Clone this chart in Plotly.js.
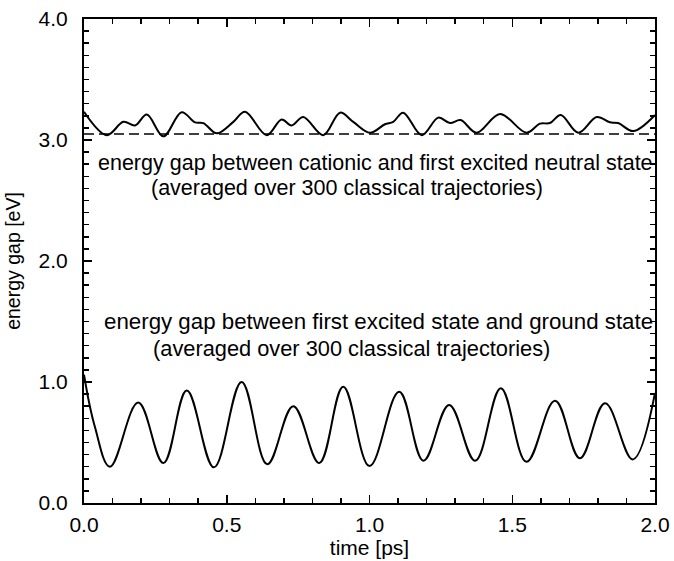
<!DOCTYPE html>
<html><head><meta charset="utf-8">
<script src="https://cdn.plot.ly/plotly-3.0.1.min.js"></script>
<style>html,body{margin:0;padding:0;background:#fff}#chart{width:674px;height:561px}</style>
</head><body><div id="chart"></div>
<script>
// Upper curve: cationic – first excited neutral gap
const tUpper = [0.0,0.08,0.138,0.179,0.22,0.278,0.342,0.389,0.418,0.465,0.523,0.564,0.64,0.692,0.727,0.768,0.838,0.897,0.943,1.002,1.054,1.083,1.118,1.183,1.241,1.282,1.319,1.375,1.457,1.55,1.597,1.632,1.67,1.731,1.796,1.842,1.871,1.924,2.0];
const eUpper = [3.234,3.04,3.15,3.12,3.21,3.03,3.23,3.146,3.14,3.055,3.15,3.234,3.04,3.17,3.12,3.19,3.04,3.226,3.15,3.06,3.13,3.15,3.226,3.04,3.185,3.14,3.165,3.06,3.215,3.06,3.135,3.14,3.207,3.06,3.19,3.146,3.14,3.074,3.207];
// Lower curve: first excited – ground state gap
const tLower = [0.0,0.038,0.091,0.19,0.278,0.36,0.455,0.552,0.642,0.733,0.824,0.908,1.0,1.104,1.189,1.279,1.37,1.46,1.55,1.65,1.737,1.825,1.922,2.0];
const eLower = [1.06,0.63,0.30,0.83,0.33,0.93,0.295,1.0,0.32,0.80,0.33,0.96,0.305,0.92,0.35,0.81,0.35,0.948,0.34,0.846,0.37,0.824,0.36,0.91];
// Reference level (dashed)
const tRef = [0.0,2.0];
const eRef = [3.05,3.05];
const labels = [
  {x:1.021,y:2.81,text:"energy gap between cationic and first excited neutral state",size:21.5},
  {x:0.921,y:2.60,text:"(averaged over 300 classical trajectories)",size:21.5},
  {x:1.031,y:1.496,text:"energy gap between first excited state and ground state",size:22.3},
  {x:0.937,y:1.281,text:"(averaged over 300 classical trajectories)",size:21.8}
];
const FONT = "Liberation Sans, Arial, sans-serif";
const traces = [
  {x:tRef,y:eRef,mode:"lines",line:{color:"#000",width:1.6,dash:"10px,5px"},hoverinfo:"skip"},
  {x:tUpper,y:eUpper,mode:"lines",line:{color:"#000",width:2,shape:"spline",smoothing:1},hoverinfo:"skip"},
  {x:tLower,y:eLower,mode:"lines",line:{color:"#000",width:2,shape:"spline",smoothing:1.1},hoverinfo:"skip"}
];
const axisCommon = {showgrid:false,zeroline:false,showline:true,linecolor:"#000",linewidth:2,
  ticks:"inside",ticklen:8,tickwidth:1.5,tickcolor:"#000",mirror:"allticks",
  tickfont:{family:FONT,size:21,color:"#000"}};
const layout = {
  width:674,height:561,margin:{l:84,r:19,t:19,b:58},
  paper_bgcolor:"#fff",plot_bgcolor:"#fff",showlegend:false,
  font:{family:FONT,color:"#000"},
  xaxis:Object.assign({},axisCommon,{range:[0,2],dtick:0.5,tick0:0,tickformat:".1f",ticklabelstandoff:2,
    minor:{dtick:0.1,ticks:"inside",ticklen:5,tickwidth:1.5,tickcolor:"#000"},
    title:{text:"time [ps]",font:{family:FONT,size:21,color:"#000"},standoff:3}}),
  yaxis:Object.assign({},axisCommon,{range:[0,4],dtick:1,tick0:0,tickformat:".1f",ticklabelstandoff:10,
    minor:{dtick:0.1,ticks:"inside",ticklen:5,tickwidth:1.5,tickcolor:"#000"},
    title:{text:"energy gap [eV]",font:{family:FONT,size:19.5,color:"#000"},standoff:13}}),
  annotations: labels.map(l=>({x:l.x,y:l.y,xref:"x",yref:"y",text:l.text,showarrow:false,
    xanchor:"center",yanchor:"middle",font:{family:FONT,size:l.size,color:"#000"}}))
};
Plotly.newPlot("chart",traces,layout,{displayModeBar:false,staticPlot:true});
</script></body></html>
